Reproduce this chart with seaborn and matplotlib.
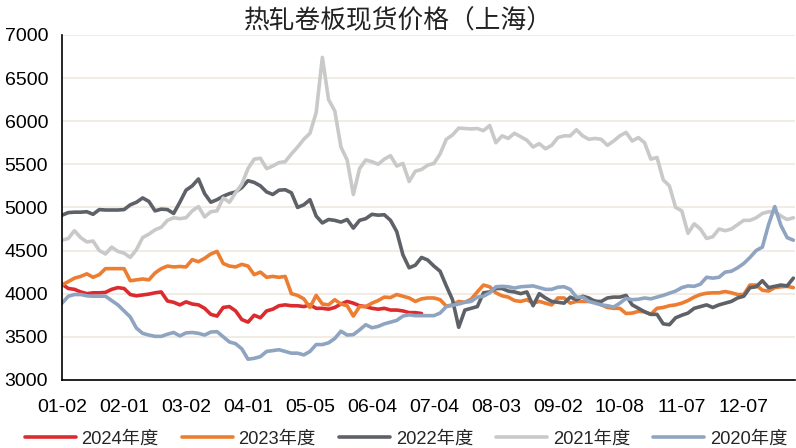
import matplotlib
matplotlib.use("Agg")
import matplotlib.pyplot as plt
import numpy as np
import pandas as pd
import seaborn as sns

# trading-day axis, one point every two trading days
TICK_LABELS = ["01-02", "02-01", "03-02", "04-01", "05-05", "06-04",
               "07-04", "08-03", "09-02", "10-08", "11-07", "12-07"]
YEARS = ["2024年度", "2023年度", "2022年度", "2021年度", "2020年度"]
COLORS = ["#dc2b2e", "#ed7d31", "#5e6167", "#c9c9c9", "#8fa4c1"]

y2024 = [4110, 4060, 4050, 4020, 4000, 4010, 4010, 4015, 4050, 4070,
         4060, 3990, 3975, 3985, 3995, 4010, 4020, 3915, 3900, 3870,
         3905, 3880, 3870, 3830, 3760, 3740, 3840, 3850, 3800, 3700,
         3670, 3750, 3720, 3800, 3820, 3860, 3870, 3860, 3860, 3850,
         3870, 3830, 3830, 3820, 3840, 3880, 3910, 3890, 3860, 3850,
         3830, 3820, 3830, 3810, 3810, 3800, 3780, 3780, 3770]

y2023 = [4100, 4140, 4180, 4200, 4230, 4190, 4220, 4290, 4290, 4290,
         4290, 4150, 4160, 4170, 4160, 4240, 4290, 4320, 4310, 4315,
         4310, 4395, 4370, 4410, 4460, 4490, 4350, 4320, 4310, 4340,
         4320, 4220, 4250, 4190, 4200, 4190, 4200, 4000, 3980, 3940,
         3840, 3980, 3880, 3870, 3930, 3880, 3860, 3740, 3850, 3850,
         3890, 3920, 3960, 3955, 3990, 3970, 3950, 3910, 3940, 3950,
         3950, 3930, 3855, 3870, 3910, 3900, 3935, 4020, 4100, 4080,
         4010, 3975, 3960, 3920, 3910, 3930, 3890, 3910, 3890, 3870,
         3950, 3950, 3890, 3910, 3910, 3910, 3920, 3870, 3840, 3830,
         3830, 3770, 3775, 3795, 3790, 3760, 3830, 3840, 3860, 3870,
         3890, 3920, 3960, 3990, 4005, 4010, 4010, 4025, 4010, 3990,
         3990, 4100, 4100, 4040, 4030, 4070, 4080, 4085, 4070]

y2022 = [4910, 4940, 4945, 4945, 4950, 4920, 4975, 4970, 4970, 4970,
         4975, 5030, 5060, 5110, 5070, 4960, 4980, 4975, 4930, 5060,
         5200, 5250, 5330, 5160, 5060, 5090, 5130, 5160, 5180, 5230,
         5310, 5290, 5250, 5180, 5150, 5200, 5205, 5170, 5000, 5030,
         5090, 4900, 4820, 4860, 4850, 4830, 4860, 4760, 4850, 4870,
         4920, 4910, 4915, 4850, 4720, 4450, 4300, 4330, 4420, 4390,
         4320, 4260, 4090, 3930, 3610, 3810, 3830, 3850, 4010, 4020,
         4060, 4060, 4030, 4020, 4000, 4020, 3860, 4000, 3950, 3910,
         3900, 3890, 3960, 3930, 3970, 3950, 3910, 3910, 3950, 3960,
         3960, 3980, 3870, 3830, 3790, 3760, 3760, 3650, 3640, 3720,
         3750, 3775, 3830, 3850, 3870, 3840, 3870, 3890, 3910, 3950,
         3970, 4070, 4080, 4150, 4070, 4085, 4100, 4090, 4180]

y2021 = [4620, 4640, 4730, 4650, 4600, 4610, 4500, 4460, 4540, 4490,
         4470, 4420, 4510, 4650, 4690, 4740, 4770, 4850, 4880, 4870,
         4880, 4960, 5010, 4890, 4950, 4960, 5110, 5060, 5170, 5270,
         5450, 5560, 5570, 5450, 5480, 5520, 5530, 5620, 5700, 5790,
         5860, 6100, 6740, 6250, 6120, 5700, 5550, 5150, 5450, 5550,
         5530, 5500, 5560, 5600, 5480, 5510, 5300, 5420, 5440, 5490,
         5510, 5620, 5790, 5840, 5920, 5915, 5910, 5915, 5890, 5950,
         5750, 5830, 5800, 5860, 5820, 5780, 5700, 5740, 5680, 5720,
         5810, 5830, 5830, 5900, 5830, 5790, 5800, 5790, 5720, 5770,
         5830, 5870, 5770, 5810, 5750, 5560, 5580, 5320, 5250, 5000,
         4960, 4700, 4810, 4750, 4640, 4660, 4750, 4730, 4750, 4800,
         4850, 4850, 4880, 4930, 4950, 4950, 4900, 4860, 4880]

y2020 = [3890, 3970, 3990, 3990, 3975, 3970, 3970, 3970, 3920, 3870,
         3800, 3730, 3600, 3540, 3520, 3505, 3505, 3530, 3550, 3510,
         3545, 3550, 3540, 3520, 3555, 3560, 3500, 3440, 3420, 3360,
         3240, 3250, 3270, 3330, 3340, 3350, 3330, 3310, 3310, 3290,
         3330, 3410, 3410, 3430, 3480, 3565, 3520, 3525, 3580, 3640,
         3605, 3620, 3650, 3670, 3690, 3740, 3755, 3745, 3745, 3745,
         3745, 3775, 3850, 3865, 3880, 3900, 3910, 3960, 3970, 4010,
         4080, 4085, 4080, 4065, 4080, 4085, 4090, 4070, 4050, 4050,
         4075, 4080, 4050, 3960, 3960, 3910, 3890, 3870, 3860, 3845,
         3890, 3945, 3930, 3935, 3950, 3940, 3960, 3980, 4005, 4030,
         4070, 4090, 4085, 4110, 4190, 4180, 4190, 4250, 4260, 4300,
         4350, 4420, 4500, 4540, 4800, 5010, 4790, 4650, 4620]

series = [y2024, y2023, y2022, y2021, y2020]
frames = []
for year, vals in zip(YEARS, series):
    frames.append(pd.DataFrame({"x": np.arange(len(vals)), "price": vals,
                                "year": year}))
df = pd.concat(frames, ignore_index=True)

sns.set_style("white")
plt.rcParams["font.family"] = ["Liberation Sans", "Noto Sans CJK SC"]

fig = plt.figure(figsize=(7.96, 4.48), dpi=100)
ax = fig.add_axes([0.078, 0.152, 0.921, 0.770])

sns.lineplot(data=df, x="x", y="price", hue="year", hue_order=YEARS,
             palette=COLORS, linewidth=2.6, ax=ax, legend=True)

ax.set_xlim(0, 118.3)
ax.set_ylim(3000, 7000)
ax.set_yticks(range(3000, 7001, 500))
ax.set_xticks(range(0, 111, 10))
ax.set_xticklabels(TICK_LABELS)
ax.yaxis.grid(True, color="#ede7dc", linewidth=1.1)
ax.set_axisbelow(True)
ax.set_xlabel("")
ax.set_ylabel("")
for side in ("top", "right"):
    ax.spines[side].set_visible(False)
for side in ("left", "bottom"):
    ax.spines[side].set_color("black")
    ax.spines[side].set_linewidth(1.2)
ax.tick_params(axis="both", direction="out", length=6, width=1.2,
               color="black", labelsize=14, labelcolor="black", pad=4)
ax.tick_params(axis="x", pad=8)

handles, labels = ax.get_legend_handles_labels()
ax.get_legend().remove()
fig.legend(handles, labels, loc="lower center", bbox_to_anchor=(0.51, -0.035),
           ncol=5, frameon=False, handlelength=2.8, handletextpad=0.3,
           columnspacing=1.25,
           prop={"family": ["Liberation Sans", "Noto Sans CJK SC"], "size": 13.2})

fig.text(0.5, 1 - 21 / 448, "热轧卷板现货价格（上海）", ha="center", va="center",
         fontsize=18.5, color="#222222", family=["Noto Sans CJK SC"],
         fontweight="light")

fig.savefig("out.png", dpi=100)
